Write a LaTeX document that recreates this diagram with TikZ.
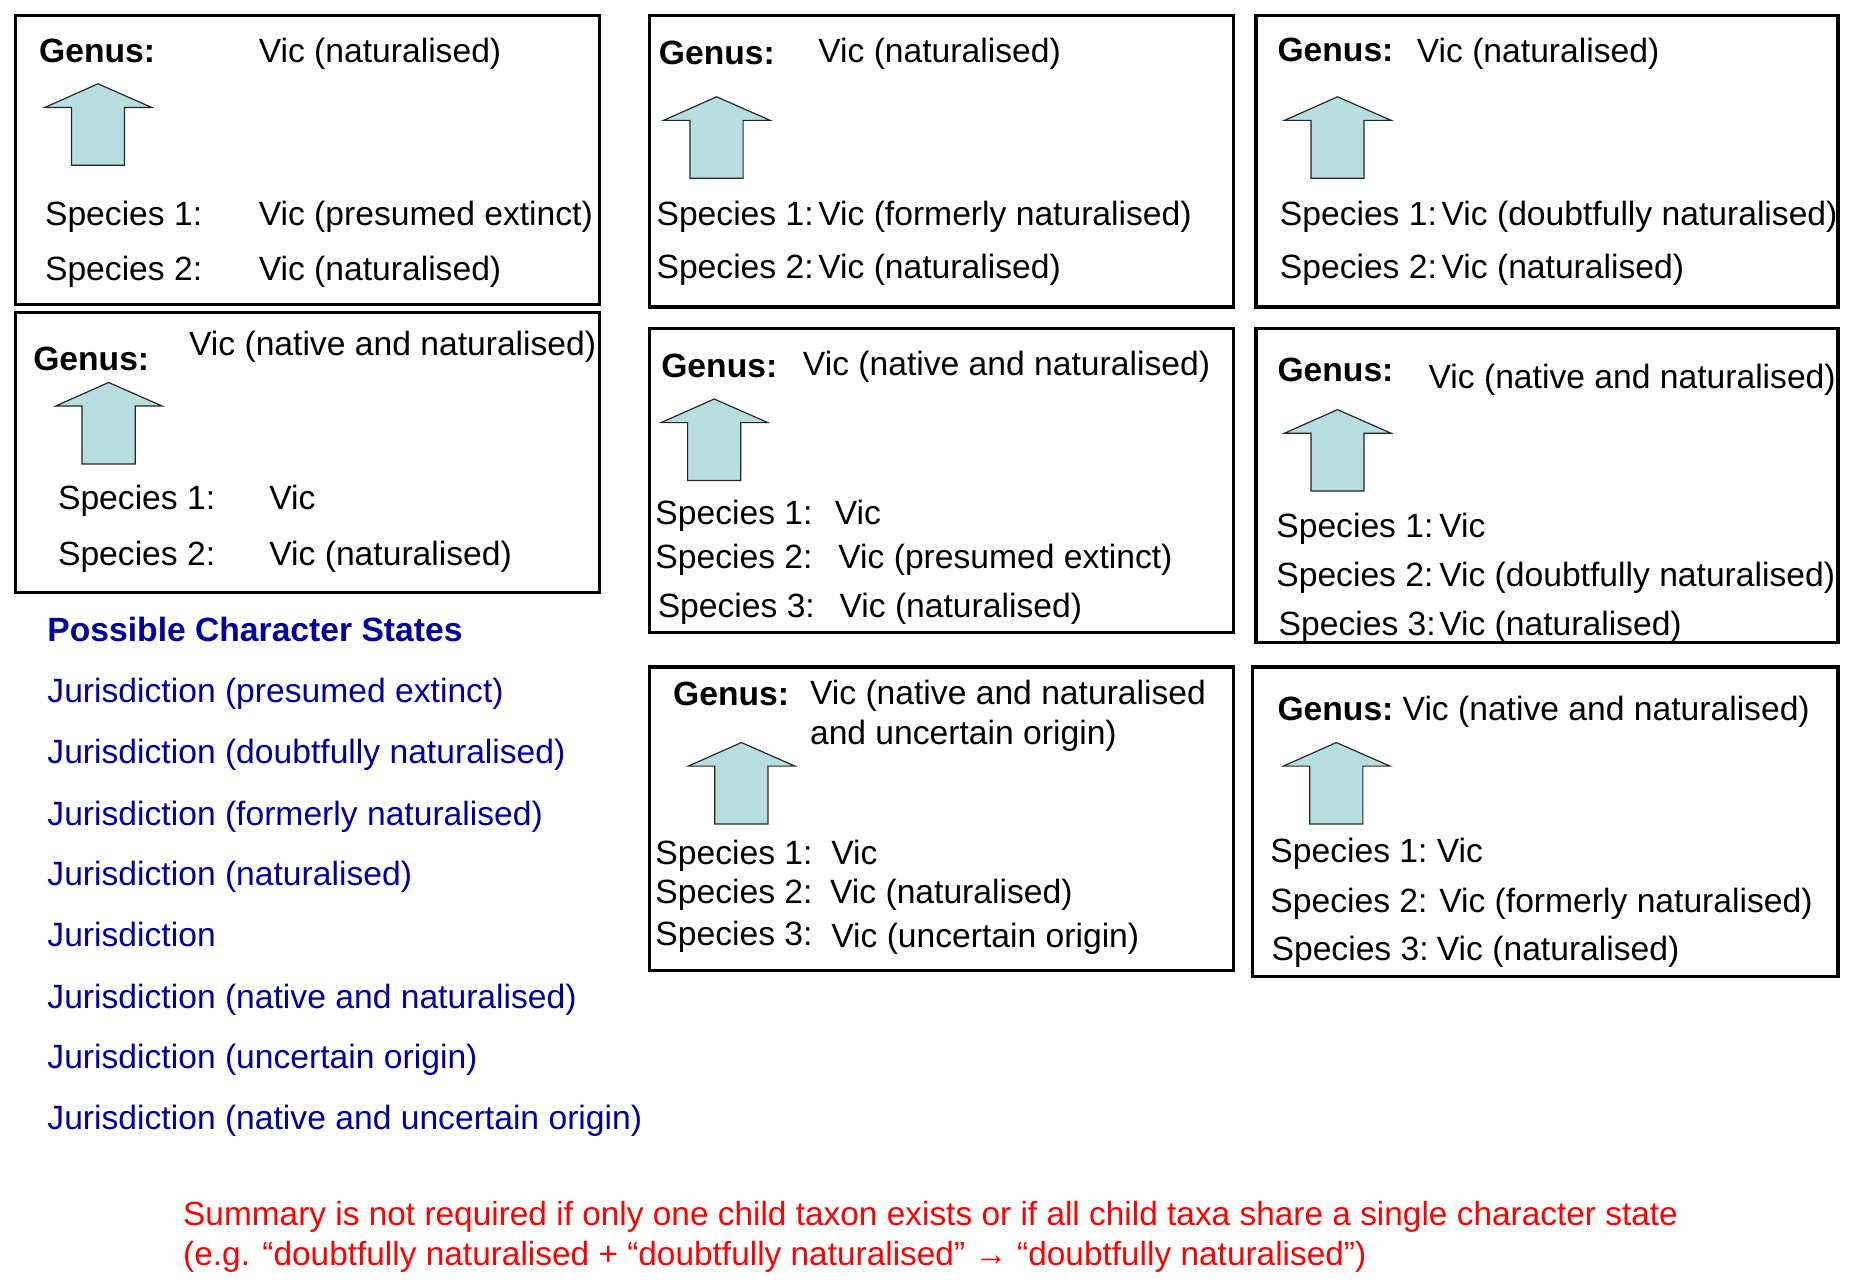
\documentclass[tikz,border=0pt]{standalone}
\usepackage{fontspec}
\setmainfont{Liberation Sans}
\usetikzlibrary{positioning}

\definecolor{statesblue}{RGB}{0,0,160}
\definecolor{arrowcyan}{RGB}{183,222,225}
\newcommand{\txfont}{\fontsize{28.5}{34}\selectfont}

\tikzset{
  taxbox/.style={black, line width=2.8pt},
  txt/.style={anchor=base west, inner sep=0pt, font=\txfont},
  genus/.style={txt, font=\txfont\bfseries},
  state/.style={txt, text=statesblue},
  note/.style={txt, text=red, font=\fontsize{28.3}{34}\selectfont},
  blockarrow/.style={draw=black!85, line width=1pt, fill=arrowcyan}
}
% up arrow with its tip at (#1,#2)
\newcommand{\taxarrow}[2]{%
  \draw[blockarrow] (#1,#2) -- ++(45.5,20) -- ++(-23,0) -- ++(0,49) -- ++(-45,0)
    -- ++(0,-49) -- ++(-22.5,0) -- cycle;}

\begin{document}
\begin{tikzpicture}[x=1pt,y=-1pt]
\useasboundingbox (0,0) rectangle (1568,1089);

% boxes
\draw[taxbox] (13,13) rectangle (508,258);
\draw[taxbox] (13,265) rectangle (508,502);
\draw[taxbox] (550,13) rectangle (1045,260);
\draw[taxbox] (1064,13) rectangle (1557,260);
\draw[taxbox] (550,278) rectangle (1045,536);
\draw[taxbox] (1064,278) rectangle (1557,544);
\draw[taxbox] (550,565) rectangle (1045,822);
\draw[taxbox] (1061,565) rectangle (1557,827);

% arrows
\taxarrow{83}{71}
\taxarrow{92}{324}
\taxarrow{607}{82}
\taxarrow{1133}{82}
\taxarrow{605}{338}
\taxarrow{1133}{347}
\taxarrow{628}{629}
\taxarrow{1132}{629}

% box A
\node[genus] (gA) at (33,53) {Genus:};
\node[txt] (vA) at (219,53) {Vic (naturalised)};
\node[txt] (sA1) at (38,191) {Species 1:};  \node[txt] (vA1) at (219,191) {Vic (presumed extinct)};
\node[txt] (sA2) at (38,238) {Species 2:};  \node[txt] (vA2) at (219,238) {Vic (naturalised)};

% box B
\node[genus] (gB) at (28,314) {Genus:};
\node[txt] (vB) at (160,301) {Vic (native and naturalised)};
\node[txt] (sB1) at (49,432) {Species 1:};  \node[txt] (vB1) at (228,432) {Vic};
\node[txt] (sB2) at (49,479) {Species 2:};  \node[txt] (vB2) at (228,479) {Vic (naturalised)};

% box C
\node[genus] (gC) at (558,55) {Genus:};
\node[txt] (vC) at (693,53) {Vic (naturalised)};
\node[txt] (sC1) at (556,191) {Species 1:};  \node[txt] (vC1) at (693,191) {Vic (formerly naturalised)};
\node[txt] (sC2) at (556,236) {Species 2:};  \node[txt] (vC2) at (693,236) {Vic (naturalised)};

% box D
\node[genus] (gD) at (1082,52) {Genus:};
\node[txt] (vD) at (1200,53) {Vic (naturalised)};
\node[txt] (sD1) at (1084,191) {Species 1:};  \node[txt] (vD1) at (1221,191) {Vic (doubtfully naturalised)};
\node[txt] (sD2) at (1084,236) {Species 2:};  \node[txt] (vD2) at (1221,236) {Vic (naturalised)};

% box E
\node[genus] (gE) at (560,320) {Genus:};
\node[txt] (vE) at (680,318) {Vic (native and naturalised)};
\node[txt] (sE1) at (555,444) {Species 1:};  \node[txt] (vE1) at (707,444) {Vic};
\node[txt] (sE2) at (555,482) {Species 2:};  \node[txt] (vE2) at (710,482) {Vic (presumed extinct)};
\node[txt] (sE3) at (557,523) {Species 3:};  \node[txt] (vE3) at (711,523) {Vic (naturalised)};

% box F
\node[genus] (gF) at (1082,323) {Genus:};
\node[txt] (vF) at (1210,329) {Vic (native and naturalised)};
\node[txt] (sF1) at (1081,455) {Species 1:};  \node[txt] (vF1) at (1219,455) {Vic};
\node[txt] (sF2) at (1081,497) {Species 2:};  \node[txt] (vF2) at (1219,497) {Vic (doubtfully naturalised)};
\node[txt] (sF3) at (1083,538) {Species 3:};  \node[txt] (vF3) at (1219,538) {Vic (naturalised)};

% box G
\node[genus] (gG) at (570,598) {Genus:};
\node[txt] (vG) at (686,597) {Vic (native and naturalised};
\node[txt] (vGb) at (686,631) {and uncertain origin)};
\node[txt] (sG1) at (555,732) {Species 1:};  \node[txt] (vG1) at (704,732) {Vic};
\node[txt] (sG2) at (555,765) {Species 2:};  \node[txt] (vG2) at (703,765) {Vic (naturalised)};
\node[txt] (sG3) at (555,801) {Species 3:};  \node[txt] (vG3) at (704,803) {Vic (uncertain origin)};

% box H
\node[genus] (gH) at (1082,610) {Genus:};
\node[txt] (vH) at (1188,610) {Vic (native and naturalised)};
\node[txt] (sH1) at (1076,731) {Species 1:};  \node[txt] (vH1) at (1217,731) {Vic};
\node[txt] (sH2) at (1076,773) {Species 2:};  \node[txt] (vH2) at (1219,773) {Vic (formerly naturalised)};
\node[txt] (sH3) at (1077,814) {Species 3:};  \node[txt] (vH3) at (1217,814) {Vic (naturalised)};

% character states
\node[state, font=\txfont\bfseries] (states) at (40,543) {Possible Character States};
\node[state] (st1) at (40,595) {Jurisdiction (presumed extinct)};
\node[state] (st2) at (40,647) {Jurisdiction (doubtfully naturalised)};
\node[state] (st3) at (40,699) {Jurisdiction (formerly naturalised)};
\node[state] (st4) at (40,750) {Jurisdiction (naturalised)};
\node[state] (st5) at (40,802) {Jurisdiction};
\node[state] (st6) at (40,854) {Jurisdiction (native and naturalised)};
\node[state] (st7) at (40,905) {Jurisdiction (uncertain origin)};
\node[state] (st8) at (40,957) {Jurisdiction (native and uncertain origin)};

% note
\node[note] (note1) at (155,1038) {Summary is not required if only one child taxon exists or if all child taxa share a single character state};
\node[note] (note2) at (155,1072) {(e.g. “doubtfully naturalised + “doubtfully naturalised” → “doubtfully naturalised”)};

\end{tikzpicture}
\end{document}
